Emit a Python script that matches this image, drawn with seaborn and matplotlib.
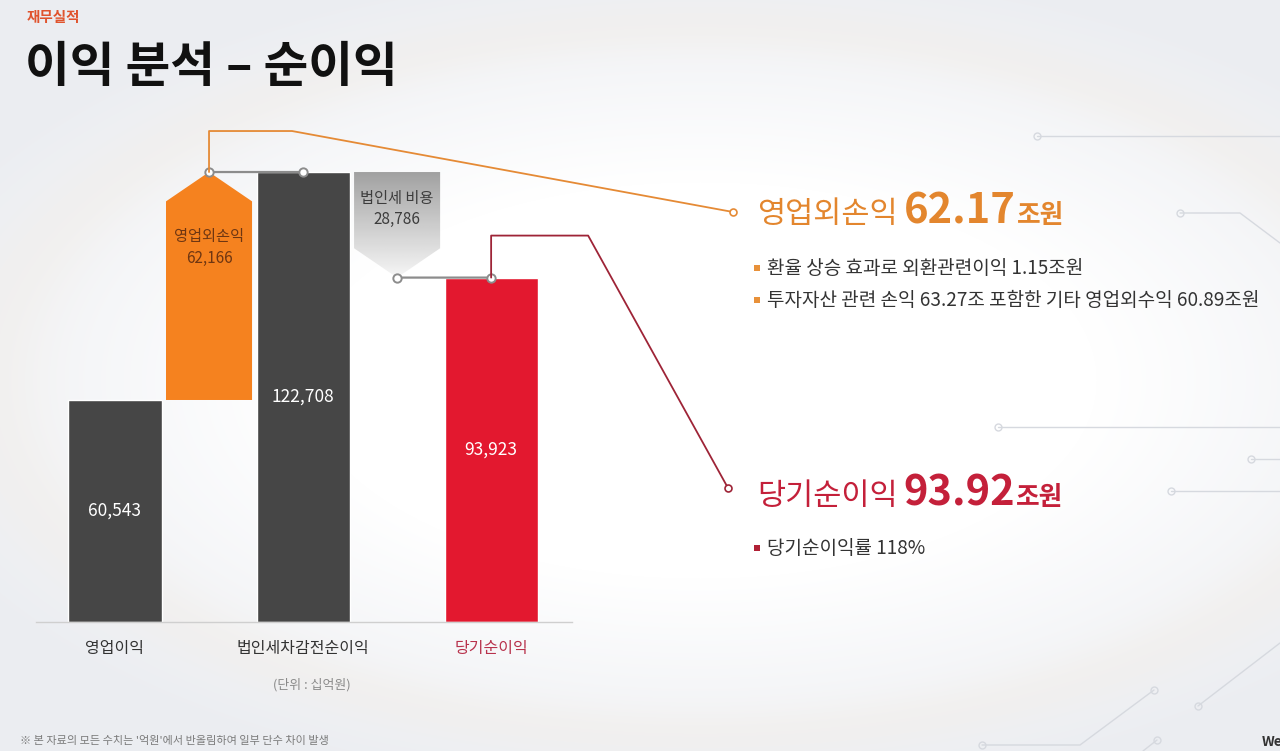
import numpy as np
import pandas as pd
import matplotlib
matplotlib.use("Agg")
import matplotlib.pyplot as plt
from matplotlib.patches import Polygon
import seaborn as sns

# 단위: 십억원
steps = ['영업이익', '영업외손익', '법인세차감전순이익', '법인세 비용', '당기순이익']
op_profit = 60543
non_op = 62166
pretax = 122708
tax = 28786
net = 93923

total_names = ['영업이익', '법인세차감전순이익', '당기순이익']
total_values = [op_profit, pretax, net]
tick_labels = ['영업이익', '법인세차감전순이익', '당기순이익']

bullets_nonop = ['환율 상승 효과로 외환관련이익 1.15조원',
                 '투자자산 관련 손익 63.27조 포함한 기타 영업외수익 60.89조원']
bullets_net = ['당기순이익률 118%']

DARK = '#464646'
RED = '#E3182F'
ORANGE = '#F5821F'
HEAD_OR = '#E3862E'
HEAD_RED = '#C4203A'

W, H = 1280, 751
sns.set_theme(style="white")
plt.rcParams['font.family'] = ['Noto Sans CJK KR', 'DejaVu Sans']

fig = plt.figure(figsize=(W / 100, H / 100), dpi=100)

# background
bg = fig.add_axes([0, 0, 1, 1], zorder=0)
yy, xx = np.mgrid[0:H, 0:W]
d = np.sqrt(((xx - 700) / 720) ** 2 + ((yy - 380) / 360) ** 2)
t = np.clip((d - 0.55) / 0.6, 0, 1)[..., None]
edge = np.array([0.925, 0.932, 0.948])
img = (1 - t) * np.array([1.0, 1.0, 1.0]) + t * edge
ring = np.exp(-((d - 0.98) / 0.07) ** 2)[..., None] * np.array([0.0, -0.01, -0.025])
img = np.clip(img + ring, 0, 1)
bg.imshow(img, extent=[0, W, H, 0], aspect='auto')
bg.set_xlim(0, W)
bg.set_ylim(H, 0)
bg.axis('off')

# chart
ax = fig.add_axes([36 / W, 129 / H, 536 / W, 522 / H], zorder=1)
ax.patch.set_alpha(0)
df = pd.DataFrame({'항목': total_names, '값': total_values})
sns.barplot(data=df, x='항목', y='값', order=steps, hue='항목',
            palette={'영업이익': DARK, '법인세차감전순이익': DARK, '당기순이익': RED},
            width=0.99, saturation=1, legend=False, ax=ax, zorder=2)
ax.set_xlim(-0.84, 4.86)
ax.set_ylim(0, 142350)

fw = 0.915
sh = 8000
# 영업외손익 (위쪽 화살표)
o_bot, o_top = op_profit, op_profit + non_op
ax.add_patch(Polygon([(1 - fw / 2, o_bot), (1 + fw / 2, o_bot), (1 + fw / 2, o_top - sh),
                      (1, o_top), (1 - fw / 2, o_top - sh)], closed=True,
                     facecolor=ORANGE, edgecolor='none', zorder=2))
# 법인세 비용 (아래쪽 화살표, 그라데이션)
t_top, t_bot = pretax, pretax - tax
tri = Polygon([(3 - fw / 2, t_top), (3 + fw / 2, t_top), (3 + fw / 2, t_bot + sh),
               (3, t_bot), (3 - fw / 2, t_bot + sh)], closed=True,
              facecolor='none', edgecolor='none')
ax.add_patch(tri)
grad = np.linspace(0.60, 0.96, 100)[:, None] ** 0.9
gi = ax.imshow(np.repeat(grad, 2, axis=1), cmap='gray', vmin=0, vmax=1,
               extent=[3 - fw / 2, 3 + fw / 2, t_bot, t_top], origin='upper',
               aspect='auto', zorder=2)
gi.set_clip_path(tri)
ax.set_xlim(-0.84, 4.86)
ax.set_ylim(0, 142350)

# 연결선
for (x0, y0), (x1, y1) in [((1, o_top), (2, pretax)), ((3, t_bot), (4, net))]:
    ax.plot([x0, x1], [y0, y1], color='#8c8c8c', lw=1.6, zorder=3)
    ax.plot([x0, x1], [y0, y1], 'o', ms=6, mfc='white', mec='#8c8c8c', mew=1.4, zorder=4)

# 값 라벨
ax.text(0, op_profit / 2, f'{op_profit:,}', color='white', ha='center', va='center', fontsize=12.5, zorder=5)
ax.text(2, pretax / 2, f'{pretax:,}', color='white', ha='center', va='center', fontsize=12.5, zorder=5)
ax.text(4, net / 2, f'{net:,}', color='white', ha='center', va='center', fontsize=12.5, zorder=5)
ax.text(1, o_top - 0.33 * non_op, f'영업외손익\n{non_op:,}', color='#6e3612', ha='center',
        va='center', fontsize=11, linespacing=1.35, zorder=5)
ax.text(3, t_top - 0.35 * tax, f'법인세 비용\n{tax:,}', color='#3c3c3c', ha='center',
        va='center', fontsize=11, linespacing=1.35, zorder=5)

ax.set_xticks([0, 2, 4])
ax.set_xticklabels(tick_labels, fontsize=11.5)
for lab, c in zip(ax.get_xticklabels(), ['#333333', '#333333', '#B8324C']):
    lab.set_color(c)
ax.tick_params(axis='x', length=0, pad=13)
ax.set_yticks([])
ax.set_xlabel('')
ax.set_ylabel('')
sns.despine(ax=ax, left=True)
ax.spines['bottom'].set_color('#cfcfcf')
ax.spines['bottom'].set_linewidth(1)

# overlay in pixel coordinates
ov = fig.add_axes([0, 0, 1, 1], zorder=3)
ov.patch.set_alpha(0)
ov.set_xlim(0, W)
ov.set_ylim(H, 0)
ov.axis('off')


def to_px(x, y):
    dx, dy = ax.transData.transform((x, y))
    return dx, H - dy


# 장식 선
deco = '#d6d9df'
for pts in [[(1037, 136), (1280, 136)],
            [(1180, 213), (1240, 213), (1280, 243)],
            [(998, 427), (1280, 427)],
            [(1251, 459), (1280, 459)],
            [(1171, 491), (1280, 491)],
            [(1154, 690), (1080, 745), (982, 745)],
            [(1198, 706), (1280, 643)],
            [(1157, 740), (1143, 751)]]:
    xs, ys = zip(*pts)
    ov.plot(xs, ys, color=deco, lw=1)
    ov.plot(xs[0], ys[0], 'o', ms=5, mfc='none', mec=deco, mew=1)
ov.plot(982, 745, 'o', ms=5, mfc='none', mec=deco, mew=1)

# 콜아웃 선
ax_, ay_ = to_px(1, o_top)
ov.plot([ax_, ax_, ax_ + 83, 733], [ay_, ay_ - 41, ay_ - 41, 212], color='#E58A35', lw=1.3)
ov.plot(733, 212, 'o', ms=5, mfc='white', mec='#E58A35', mew=1.2)
rx_, ry_ = to_px(4, net)
ov.plot([rx_, rx_, rx_ + 97, 728], [ry_, ry_ - 42, ry_ - 42, 488], color='#9E2437', lw=1.3)
ov.plot(728, 488, 'o', ms=5, mfc='white', mec='#9E2437', mew=1.2)

renderer = fig.canvas.get_renderer()


def chain(x, y, parts):
    for s, kw, gap in parts:
        tx = ov.text(x, y, s, va='baseline', ha='left', **kw)
        x += tx.get_window_extent(renderer=renderer).width + gap


chain(757, 223, [('영업외손익', dict(fontsize=22, color=HEAD_OR, fontweight='medium'), 6),
                 ('62.17', dict(fontsize=30, color=HEAD_OR, fontweight='bold'), 1),
                 ('조원', dict(fontsize=18.5, color=HEAD_OR, fontweight='bold'), 0)])
chain(757, 505, [('당기순이익', dict(fontsize=22, color=HEAD_RED, fontweight='medium'), 6),
                 ('93.92', dict(fontsize=30, color=HEAD_RED, fontweight='bold'), 1),
                 ('조원', dict(fontsize=18.5, color=HEAD_RED, fontweight='bold'), 0)])

for i, s in enumerate(bullets_nonop):
    y = 268 + i * 32
    ov.plot(757, y, 's', ms=4, color='#E8913A', mew=0)
    ov.text(767, y, s, fontsize=13.7, color='#333333', va='center', ha='left')
for i, s in enumerate(bullets_net):
    y = 548 + i * 32
    ov.plot(757, y, 's', ms=4, color='#B02035', mew=0)
    ov.text(767, y, s, fontsize=13.7, color='#333333', va='center', ha='left')

# 제목
ov.text(27, 17, '재무실적', fontsize=10.5, color='#E0532D', fontweight='bold', va='center', ha='left')
ov.text(25, 68, '이익 분석 – 순이익', fontsize=35, color='#111111', fontweight='bold', va='center', ha='left')

ov.text(312, 685, '(단위 : 십억원)', fontsize=9.3, color='#8a8a8a', va='center', ha='center')
ov.text(20, 741, "※ 본 자료의 모든 수치는 '억원'에서 반올림하여 일부 단수 차이 발생",
        fontsize=8, color='#7a7a7a', va='center', ha='left')
ov.text(1262, 742, 'We', fontsize=10, color='#333333', fontweight='bold', va='center', ha='left')

fig.savefig('out.png', dpi=100)
